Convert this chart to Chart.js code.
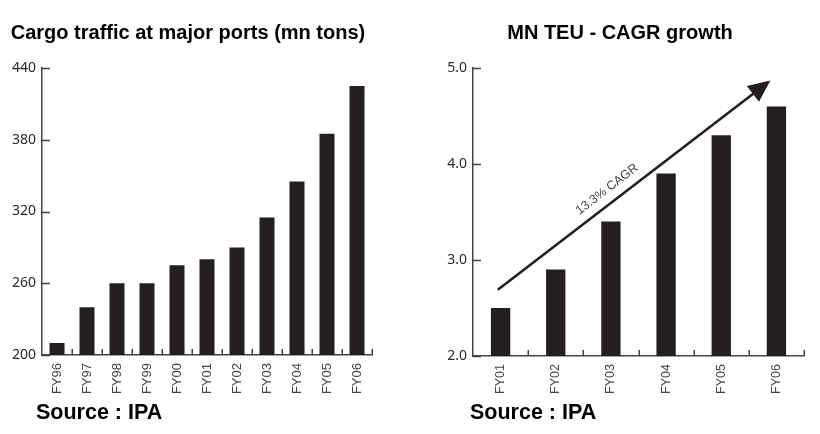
<!DOCTYPE html>
<html>
<head>
<meta charset="utf-8">
<script src="https://cdn.jsdelivr.net/npm/chart.js@4.4.1/dist/chart.umd.min.js"></script>
<style>
  html, body { margin: 0; padding: 0; background: #ffffff; }
  #wrap { position: relative; width: 820px; height: 434px; overflow: hidden; }
  .panel { position: absolute; top: 0; width: 410px; height: 434px; }
  #leftPanel { left: 0; }
  #rightPanel { left: 410px; }
</style>
</head>
<body>
<div id="wrap">
  <div class="panel" id="leftPanel"><canvas id="cargoChart" width="410" height="434"></canvas></div>
  <div class="panel" id="rightPanel"><canvas id="teuChart" width="410" height="434"></canvas></div>
</div>
<script>
// Cargo traffic at major ports, mn tons
const cargoYears = ['FY96', 'FY97', 'FY98', 'FY99', 'FY00', 'FY01', 'FY02', 'FY03', 'FY04', 'FY05', 'FY06'];
const cargoTons = [210, 240, 260, 260, 275, 280, 290, 315, 345, 385, 425];
const cargoTicks = [200, 260, 320, 380, 440];

// Container traffic, mn TEU
const teuYears = ['FY01', 'FY02', 'FY03', 'FY04', 'FY05', 'FY06'];
const teuVolume = [2.5, 2.9, 3.4, 3.9, 4.3, 4.6];
const teuTicks = [2.0, 3.0, 4.0, 5.0];

// Growth arrow, in data units [category index, mn TEU]
const cagrLabel = '13.3% CAGR';
const cagrArrow = [[-0.05, 2.69], [4.89, 4.87]];

const titles = ['Cargo traffic at major ports (mn tons)', 'MN TEU - CAGR growth'];
const sourceText = 'Source : IPA';

const INK = '#231f20';
const AXIS = '#444444';

// Short tick marks pointing into the plot area
const innerTicks = {
  id: 'innerTicks',
  afterDraw(chart) {
    const ctx = chart.ctx;
    const area = chart.chartArea;
    const xs = chart.scales.x, ys = chart.scales.y;
    ctx.save();
    ctx.strokeStyle = AXIS;
    ctx.lineWidth = 1.5;
    ctx.beginPath();
    ys.ticks.forEach(t => {
      const y = Math.round(ys.getPixelForValue(t.value)) + 0.5;
      ctx.moveTo(area.left, y);
      ctx.lineTo(area.left + 8, y);
    });
    const n = chart.data.labels.length;
    for (let i = 0; i < n; i++) {
      const x = Math.round(xs.getPixelForValue(i + 0.5)) + 0.25;
      ctx.moveTo(x, area.bottom);
      ctx.lineTo(x, area.bottom - 6);
    }
    ctx.stroke();
    ctx.restore();
  }
};

// Panel heading and source line
const captions = {
  id: 'captions',
  afterDraw(chart, args, opts) {
    const ctx = chart.ctx;
    ctx.save();
    ctx.fillStyle = '#000000';
    ctx.textBaseline = 'middle';
    ctx.font = 'bold 20px "Liberation Sans", Arial, sans-serif';
    ctx.textAlign = 'center';
    ctx.fillText(opts.title, opts.titleX, 33);
    ctx.font = 'bold 21.5px "Liberation Sans", Arial, sans-serif';
    ctx.textAlign = 'left';
    ctx.fillText(opts.source, opts.sourceX, 413);
    ctx.restore();
  }
};

const growthArrow = {
  id: 'growthArrow',
  afterDatasetsDraw(chart, args, opts) {
    if (!opts.points) return;
    const xs = chart.scales.x, ys = chart.scales.y;
    const ctx = chart.ctx;
    const x0 = xs.getPixelForValue(opts.points[0][0]);
    const y0 = ys.getPixelForValue(opts.points[0][1]);
    const x1 = xs.getPixelForValue(opts.points[1][0]);
    const y1 = ys.getPixelForValue(opts.points[1][1]);
    const ang = Math.atan2(y1 - y0, x1 - x0);
    const headLen = 22, headHalf = 10;
    const bx = x1 - headLen * Math.cos(ang), by = y1 - headLen * Math.sin(ang);
    ctx.save();
    ctx.strokeStyle = INK;
    ctx.fillStyle = INK;
    ctx.lineWidth = 2.6;
    ctx.beginPath();
    ctx.moveTo(x0, y0);
    ctx.lineTo(bx + 2 * Math.cos(ang), by + 2 * Math.sin(ang));
    ctx.stroke();
    ctx.beginPath();
    ctx.moveTo(x1, y1);
    ctx.lineTo(bx - headHalf * Math.sin(ang), by + headHalf * Math.cos(ang));
    ctx.lineTo(bx + headHalf * Math.sin(ang), by - headHalf * Math.cos(ang));
    ctx.closePath();
    ctx.fill();
    // label along the arrow
    const t = 0.43;
    const mx = x0 + (x1 - x0) * t, my = y0 + (y1 - y0) * t;
    const off = 13;
    const lx = mx + off * Math.sin(ang), ly = my - off * Math.cos(ang);
    ctx.translate(lx, ly);
    ctx.rotate(ang);
    ctx.fillStyle = '#444444';
    ctx.font = '12.5px "Liberation Sans", Arial, sans-serif';
    ctx.textAlign = 'center';
    ctx.textBaseline = 'middle';
    ctx.fillText(opts.label, 0, 0);
    ctx.restore();
  }
};

function makeOptions(cfg) {
  return {
    responsive: false,
    animation: false,
    events: [],
    layout: { padding: { top: 68, right: cfg.padRight, bottom: 0, left: 0 } },
    plugins: {
      legend: { display: false },
      tooltip: { enabled: false },
      title: { display: false },
      captions: { title: cfg.title, titleX: cfg.titleX, source: sourceText, sourceX: cfg.sourceX },
      growthArrow: cfg.arrow || {}
    },
    scales: {
      x: {
        type: 'category',
        offset: true,
        grid: { display: true, drawOnChartArea: false, drawTicks: false, offset: true, color: 'rgba(0,0,0,0)' },
        border: { display: true, color: AXIS, width: 1.5 },
        ticks: {
          autoSkip: false, maxRotation: 90, minRotation: 90, padding: 8,
          color: '#444444',
          font: { family: '"Liberation Sans", Arial, sans-serif', size: cfg.xFont }
        },
        afterFit(scale) { scale.height = cfg.xHeight; }
      },
      y: {
        min: cfg.min, max: cfg.max,
        afterBuildTicks(scale) { scale.ticks = cfg.ticks.map(v => ({ value: v })); },
        grid: { display: true, drawOnChartArea: false, drawTicks: false, color: 'rgba(0,0,0,0)' },
        border: { display: true, color: AXIS, width: 1.5 },
        ticks: {
          padding: 6,
          color: '#2a2a2a',
          font: { family: '"Noto Sans", "Open Sans", sans-serif', size: 14 },
          callback: cfg.fmt
        },
        afterFit(scale) { scale.width = cfg.yWidth; }
      }
    }
  };
}

new Chart(document.getElementById('cargoChart'), {
  type: 'bar',
  data: {
    labels: cargoYears,
    datasets: [{
      data: cargoTons,
      backgroundColor: INK,
      borderWidth: 0,
      categoryPercentage: 1.0,
      barPercentage: 0.5
    }]
  },
  options: makeOptions({
    padRight: 38, yWidth: 42, xHeight: 79, xFont: 13,
    min: 200, max: 440, ticks: cargoTicks,
    fmt: v => String(v),
    title: titles[0], titleX: 188, sourceX: 36
  }),
  plugins: [innerTicks, captions, growthArrow]
});

new Chart(document.getElementById('teuChart'), {
  type: 'bar',
  data: {
    labels: teuYears,
    datasets: [{
      data: teuVolume,
      backgroundColor: INK,
      borderWidth: 0,
      categoryPercentage: 1.0,
      barPercentage: 0.35
    }]
  },
  options: makeOptions({
    padRight: 16, yWidth: 63, xHeight: 78, xFont: 12.5,
    min: 2.0, max: 5.0, ticks: teuTicks,
    fmt: v => Number(v).toFixed(1),
    title: titles[1], titleX: 210, sourceX: 60,
    arrow: { points: cagrArrow, label: cagrLabel }
  }),
  plugins: [innerTicks, captions, growthArrow]
});
</script>
</body>
</html>
